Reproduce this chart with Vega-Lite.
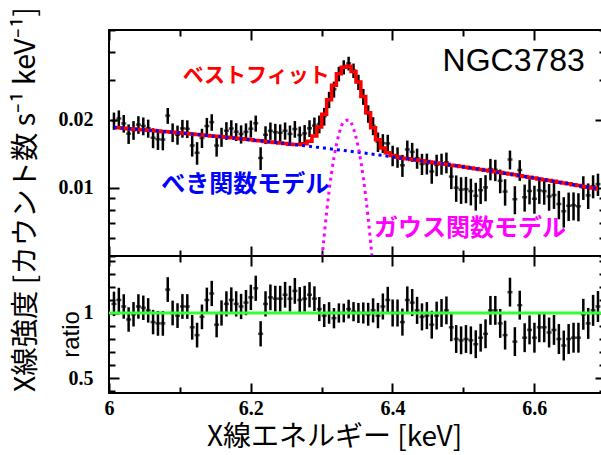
{
"$schema": "https://vega.github.io/schema/vega-lite/v6.json",
"background": "white",
"padding": {"left": 9, "top": 5, "right": 0, "bottom": 0},
"bounds": "flush",
"config": {
 "view": {"stroke": "black", "strokeWidth": 2},
 "axis": {"labelFont": "Liberation Serif", "labelFontWeight": "bold", "labelFontSize": 20, "labelColor": "black", "titleFont": "Noto Sans CJK JP", "titleFontWeight": "normal", "titleColor": "black", "titleFontSize": 26, "domain": false, "grid": false, "tickColor": "black", "tickWidth": 2, "labelFlush": false, "labelOverlap": false}
},
"datasets": {
 "spec": [
{"E":6.007,"model":0.01852,"pl":0.01852,"rate":0.01982,"lo":0.01808,"hi":0.02156,"ratio":1.07,"rlo":0.976,"rhi":1.164},
{"E":6.0139,"model":0.01845,"pl":0.01845,"rate":0.0203,"lo":0.01856,"hi":0.02203,"ratio":1.10,"rlo":1.006,"rhi":1.194},
{"E":6.0208,"model":0.01838,"pl":0.01838,"rate":0.0193,"lo":0.01757,"hi":0.02103,"ratio":1.05,"rlo":0.956,"rhi":1.144},
{"E":6.0277,"model":0.0183,"pl":0.0183,"rate":0.01739,"lo":0.01566,"hi":0.01911,"ratio":0.95,"rlo":0.856,"rhi":1.044},
{"E":6.0346,"model":0.01823,"pl":0.01823,"rate":0.01805,"lo":0.01633,"hi":0.01976,"ratio":0.99,"rlo":0.896,"rhi":1.084},
{"E":6.0415,"model":0.01816,"pl":0.01816,"rate":0.01907,"lo":0.01736,"hi":0.02078,"ratio":1.05,"rlo":0.956,"rhi":1.144},
{"E":6.0484,"model":0.01809,"pl":0.01809,"rate":0.01881,"lo":0.01711,"hi":0.02051,"ratio":1.04,"rlo":0.946,"rhi":1.134},
{"E":6.0553,"model":0.01801,"pl":0.01801,"rate":0.01837,"lo":0.01668,"hi":0.02006,"ratio":1.02,"rlo":0.926,"rhi":1.114},
{"E":6.0622,"model":0.01794,"pl":0.01794,"rate":0.01668,"lo":0.015,"hi":0.01837,"ratio":0.93,"rlo":0.836,"rhi":1.024},
{"E":6.0691,"model":0.01786,"pl":0.01786,"rate":0.01643,"lo":0.01473,"hi":0.01813,"ratio":0.92,"rlo":0.825,"rhi":1.015},
{"E":6.076,"model":0.01779,"pl":0.01779,"rate":0.01637,"lo":0.01468,"hi":0.01806,"ratio":0.92,"rlo":0.825,"rhi":1.015},
{"E":6.0829,"model":0.01771,"pl":0.01771,"rate":0.0209,"lo":0.01922,"hi":0.02258,"ratio":1.18,"rlo":1.085,"rhi":1.275},
{"E":6.0898,"model":0.01763,"pl":0.01763,"rate":0.01763,"lo":0.01596,"hi":0.0193,"ratio":1.0,"rlo":0.905,"rhi":1.095},
{"E":6.0967,"model":0.01756,"pl":0.01756,"rate":0.01721,"lo":0.01554,"hi":0.01888,"ratio":0.98,"rlo":0.885,"rhi":1.075},
{"E":6.1036,"model":0.01748,"pl":0.01748,"rate":0.01835,"lo":0.01669,"hi":0.02001,"ratio":1.05,"rlo":0.955,"rhi":1.145},
{"E":6.1105,"model":0.0174,"pl":0.0174,"rate":0.01827,"lo":0.01662,"hi":0.01992,"ratio":1.05,"rlo":0.955,"rhi":1.145},
{"E":6.1174,"model":0.01732,"pl":0.01732,"rate":0.01541,"lo":0.01377,"hi":0.01706,"ratio":0.89,"rlo":0.795,"rhi":0.985},
{"E":6.1243,"model":0.01724,"pl":0.01724,"rate":0.01431,"lo":0.01267,"hi":0.01595,"ratio":0.83,"rlo":0.735,"rhi":0.925},
{"E":6.1312,"model":0.01716,"pl":0.01716,"rate":0.01665,"lo":0.01502,"hi":0.01828,"ratio":0.97,"rlo":0.875,"rhi":1.065},
{"E":6.1381,"model":0.01708,"pl":0.01708,"rate":0.01879,"lo":0.01717,"hi":0.02041,"ratio":1.10,"rlo":1.005,"rhi":1.195},
{"E":6.145,"model":0.017,"pl":0.017,"rate":0.01955,"lo":0.0179,"hi":0.0212,"ratio":1.15,"rlo":1.053,"rhi":1.247},
{"E":6.1519,"model":0.01692,"pl":0.01692,"rate":0.0154,"lo":0.01376,"hi":0.01704,"ratio":0.91,"rlo":0.813,"rhi":1.007},
{"E":6.1588,"model":0.01683,"pl":0.01683,"rate":0.01683,"lo":0.0152,"hi":0.01846,"ratio":1.0,"rlo":0.903,"rhi":1.097},
{"E":6.1657,"model":0.01675,"pl":0.01675,"rate":0.01792,"lo":0.0163,"hi":0.01955,"ratio":1.07,"rlo":0.973,"rhi":1.167},
{"E":6.1726,"model":0.01666,"pl":0.01666,"rate":0.01833,"lo":0.01671,"hi":0.01994,"ratio":1.10,"rlo":1.003,"rhi":1.197},
{"E":6.1795,"model":0.01658,"pl":0.01658,"rate":0.01774,"lo":0.01613,"hi":0.01935,"ratio":1.07,"rlo":0.973,"rhi":1.167},
{"E":6.1864,"model":0.0165,"pl":0.0165,"rate":0.01733,"lo":0.01572,"hi":0.01893,"ratio":1.05,"rlo":0.953,"rhi":1.147},
{"E":6.1933,"model":0.01641,"pl":0.01641,"rate":0.01772,"lo":0.01613,"hi":0.01931,"ratio":1.08,"rlo":0.983,"rhi":1.177},
{"E":6.2002,"model":0.01633,"pl":0.01633,"rate":0.01829,"lo":0.01671,"hi":0.01987,"ratio":1.12,"rlo":1.023,"rhi":1.217},
{"E":6.2071,"model":0.01624,"pl":0.01624,"rate":0.01933,"lo":0.01775,"hi":0.0209,"ratio":1.19,"rlo":1.093,"rhi":1.287},
{"E":6.214,"model":0.01616,"pl":0.01616,"rate":0.01357,"lo":0.01201,"hi":0.01514,"ratio":0.84,"rlo":0.743,"rhi":0.937},
{"E":6.2209,"model":0.01607,"pl":0.01607,"rate":0.01719,"lo":0.01564,"hi":0.01875,"ratio":1.07,"rlo":0.973,"rhi":1.167},
{"E":6.2278,"model":0.01598,"pl":0.01598,"rate":0.0179,"lo":0.01632,"hi":0.01948,"ratio":1.12,"rlo":1.021,"rhi":1.219},
{"E":6.2347,"model":0.0159,"pl":0.0159,"rate":0.01765,"lo":0.01607,"hi":0.01922,"ratio":1.11,"rlo":1.011,"rhi":1.209},
{"E":6.2416,"model":0.01581,"pl":0.01581,"rate":0.01755,"lo":0.01598,"hi":0.01911,"ratio":1.11,"rlo":1.011,"rhi":1.209},
{"E":6.2485,"model":0.01572,"pl":0.01572,"rate":0.01792,"lo":0.01636,"hi":0.01948,"ratio":1.14,"rlo":1.041,"rhi":1.239},
{"E":6.2554,"model":0.01563,"pl":0.01563,"rate":0.01735,"lo":0.0158,"hi":0.0189,"ratio":1.11,"rlo":1.011,"rhi":1.209},
{"E":6.2623,"model":0.01558,"pl":0.01554,"rate":0.01823,"lo":0.01669,"hi":0.01977,"ratio":1.17,"rlo":1.071,"rhi":1.269},
{"E":6.2692,"model":0.01559,"pl":0.01546,"rate":0.01715,"lo":0.01561,"hi":0.01869,"ratio":1.10,"rlo":1.001,"rhi":1.199},
{"E":6.2761,"model":0.01571,"pl":0.01537,"rate":0.01744,"lo":0.01588,"hi":0.01899,"ratio":1.11,"rlo":1.011,"rhi":1.209},
{"E":6.283,"model":0.01611,"pl":0.01528,"rate":0.01837,"lo":0.0168,"hi":0.01993,"ratio":1.14,"rlo":1.043,"rhi":1.237},
{"E":6.2899,"model":0.017,"pl":0.01519,"rate":0.01887,"lo":0.01726,"hi":0.02049,"ratio":1.11,"rlo":1.015,"rhi":1.205},
{"E":6.2968,"model":0.01862,"pl":0.0151,"rate":0.01918,"lo":0.01745,"hi":0.02091,"ratio":1.03,"rlo":0.937,"rhi":1.123},
{"E":6.3037,"model":0.02117,"pl":0.01501,"rate":0.02075,"lo":0.01888,"hi":0.02261,"ratio":0.98,"rlo":0.892,"rhi":1.068},
{"E":6.3106,"model":0.02459,"pl":0.01492,"rate":0.02459,"lo":0.02255,"hi":0.02663,"ratio":1.0,"rlo":0.917,"rhi":1.083},
{"E":6.3175,"model":0.02847,"pl":0.01483,"rate":0.02733,"lo":0.02511,"hi":0.02955,"ratio":0.96,"rlo":0.882,"rhi":1.038},
{"E":6.3244,"model":0.032,"pl":0.01474,"rate":0.032,"lo":0.02963,"hi":0.03437,"ratio":1.0,"rlo":0.926,"rhi":1.074},
{"E":6.3313,"model":0.03425,"pl":0.01465,"rate":0.03425,"lo":0.03178,"hi":0.03672,"ratio":1.0,"rlo":0.928,"rhi":1.072},
{"E":6.3382,"model":0.03455,"pl":0.01456,"rate":0.03559,"lo":0.0331,"hi":0.03807,"ratio":1.03,"rlo":0.958,"rhi":1.102},
{"E":6.3451,"model":0.03277,"pl":0.01447,"rate":0.0331,"lo":0.03067,"hi":0.03552,"ratio":1.01,"rlo":0.936,"rhi":1.084},
{"E":6.352,"model":0.02942,"pl":0.01438,"rate":0.02942,"lo":0.02715,"hi":0.03169,"ratio":1.0,"rlo":0.923,"rhi":1.077},
{"E":6.3589,"model":0.02538,"pl":0.01429,"rate":0.02538,"lo":0.02332,"hi":0.02744,"ratio":1.0,"rlo":0.919,"rhi":1.081},
{"E":6.3658,"model":0.02154,"pl":0.0142,"rate":0.02132,"lo":0.01943,"hi":0.02322,"ratio":0.99,"rlo":0.902,"rhi":1.078},
{"E":6.3727,"model":0.01847,"pl":0.0141,"rate":0.01884,"lo":0.01712,"hi":0.02056,"ratio":1.02,"rlo":0.927,"rhi":1.113},
{"E":6.3796,"model":0.01634,"pl":0.01401,"rate":0.01601,"lo":0.01443,"hi":0.0176,"ratio":0.98,"rlo":0.883,"rhi":1.077},
{"E":6.3865,"model":0.01504,"pl":0.01392,"rate":0.01579,"lo":0.01429,"hi":0.0173,"ratio":1.05,"rlo":0.95,"rhi":1.15},
{"E":6.3934,"model":0.01431,"pl":0.01383,"rate":0.01574,"lo":0.0143,"hi":0.01719,"ratio":1.10,"rlo":0.999,"rhi":1.201},
{"E":6.4003,"model":0.01393,"pl":0.01374,"rate":0.01393,"lo":0.01248,"hi":0.01538,"ratio":1.0,"rlo":0.896,"rhi":1.104},
{"E":6.4072,"model":0.0137,"pl":0.01364,"rate":0.0137,"lo":0.01228,"hi":0.01512,"ratio":1.0,"rlo":0.896,"rhi":1.104},
{"E":6.4141,"model":0.01355,"pl":0.01355,"rate":0.0126,"lo":0.01119,"hi":0.01401,"ratio":0.93,"rlo":0.826,"rhi":1.034},
{"E":6.421,"model":0.01346,"pl":0.01346,"rate":0.01481,"lo":0.01341,"hi":0.01621,"ratio":1.10,"rlo":0.996,"rhi":1.204},
{"E":6.4279,"model":0.01337,"pl":0.01337,"rate":0.01444,"lo":0.01305,"hi":0.01583,"ratio":1.08,"rlo":0.976,"rhi":1.184},
{"E":6.4348,"model":0.01328,"pl":0.01328,"rate":0.01355,"lo":0.01216,"hi":0.01493,"ratio":1.02,"rlo":0.916,"rhi":1.124},
{"E":6.4417,"model":0.01318,"pl":0.01318,"rate":0.01278,"lo":0.01141,"hi":0.01416,"ratio":0.97,"rlo":0.866,"rhi":1.074},
{"E":6.4486,"model":0.01309,"pl":0.01309,"rate":0.01283,"lo":0.01147,"hi":0.01419,"ratio":0.98,"rlo":0.876,"rhi":1.084},
{"E":6.4555,"model":0.013,"pl":0.013,"rate":0.01183,"lo":0.01044,"hi":0.01322,"ratio":0.91,"rlo":0.803,"rhi":1.017},
{"E":6.4624,"model":0.01291,"pl":0.01291,"rate":0.01265,"lo":0.01127,"hi":0.01403,"ratio":0.98,"rlo":0.873,"rhi":1.087},
{"E":6.4693,"model":0.01281,"pl":0.01281,"rate":0.01281,"lo":0.01144,"hi":0.01418,"ratio":1.0,"rlo":0.893,"rhi":1.107},
{"E":6.4762,"model":0.01272,"pl":0.01272,"rate":0.01297,"lo":0.01161,"hi":0.01434,"ratio":1.02,"rlo":0.913,"rhi":1.127},
{"E":6.4831,"model":0.01262,"pl":0.01262,"rate":0.01123,"lo":0.00988,"hi":0.01258,"ratio":0.89,"rlo":0.783,"rhi":0.997},
{"E":6.49,"model":0.01253,"pl":0.01253,"rate":0.01002,"lo":0.00868,"hi":0.01136,"ratio":0.80,"rlo":0.693,"rhi":0.907},
{"E":6.4969,"model":0.01244,"pl":0.01244,"rate":0.00983,"lo":0.0085,"hi":0.01116,"ratio":0.79,"rlo":0.683,"rhi":0.897},
{"E":6.5038,"model":0.01235,"pl":0.01235,"rate":0.00988,"lo":0.00856,"hi":0.0112,"ratio":0.80,"rlo":0.693,"rhi":0.907},
{"E":6.5107,"model":0.01225,"pl":0.01225,"rate":0.00968,"lo":0.00837,"hi":0.01099,"ratio":0.79,"rlo":0.683,"rhi":0.897},
{"E":6.5176,"model":0.01216,"pl":0.01216,"rate":0.00924,"lo":0.00794,"hi":0.01054,"ratio":0.76,"rlo":0.653,"rhi":0.867},
{"E":6.5245,"model":0.01207,"pl":0.01207,"rate":0.00978,"lo":0.00849,"hi":0.01107,"ratio":0.81,"rlo":0.703,"rhi":0.917},
{"E":6.5314,"model":0.01198,"pl":0.01198,"rate":0.01006,"lo":0.00873,"hi":0.01139,"ratio":0.84,"rlo":0.729,"rhi":0.951},
{"E":6.5383,"model":0.01189,"pl":0.01189,"rate":0.01213,"lo":0.01081,"hi":0.01345,"ratio":1.02,"rlo":0.909,"rhi":1.131},
{"E":6.5452,"model":0.01179,"pl":0.01179,"rate":0.01203,"lo":0.01072,"hi":0.01333,"ratio":1.02,"rlo":0.909,"rhi":1.131},
{"E":6.5521,"model":0.0117,"pl":0.0117,"rate":0.01076,"lo":0.00947,"hi":0.01206,"ratio":0.92,"rlo":0.809,"rhi":1.031},
{"E":6.559,"model":0.01161,"pl":0.01161,"rate":0.00964,"lo":0.00835,"hi":0.01093,"ratio":0.83,"rlo":0.719,"rhi":0.941},
{"E":6.5659,"model":0.01152,"pl":0.01152,"rate":0.01336,"lo":0.01208,"hi":0.01464,"ratio":1.16,"rlo":1.049,"rhi":1.271},
{"E":6.5728,"model":0.01143,"pl":0.01143,"rate":0.00892,"lo":0.00765,"hi":0.01018,"ratio":0.78,"rlo":0.669,"rhi":0.891},
{"E":6.5797,"model":0.01133,"pl":0.01133,"rate":0.01201,"lo":0.01075,"hi":0.01327,"ratio":1.06,"rlo":0.949,"rhi":1.171},
{"E":6.5866,"model":0.01124,"pl":0.01124,"rate":0.0091,"lo":0.00786,"hi":0.01035,"ratio":0.81,"rlo":0.699,"rhi":0.921},
{"E":6.5935,"model":0.01115,"pl":0.01115,"rate":0.0097,"lo":0.00846,"hi":0.01094,"ratio":0.87,"rlo":0.759,"rhi":0.981},
{"E":6.6004,"model":0.01106,"pl":0.01106,"rate":0.00896,"lo":0.00769,"hi":0.01023,"ratio":0.81,"rlo":0.695,"rhi":0.925},
{"E":6.6073,"model":0.01097,"pl":0.01097,"rate":0.00976,"lo":0.0085,"hi":0.01102,"ratio":0.89,"rlo":0.775,"rhi":1.005},
{"E":6.6142,"model":0.01088,"pl":0.01088,"rate":0.00968,"lo":0.00843,"hi":0.01093,"ratio":0.89,"rlo":0.775,"rhi":1.005},
{"E":6.6211,"model":0.01079,"pl":0.01079,"rate":0.00917,"lo":0.00793,"hi":0.01041,"ratio":0.85,"rlo":0.735,"rhi":0.965},
{"E":6.628,"model":0.0107,"pl":0.0107,"rate":0.00931,"lo":0.00808,"hi":0.01054,"ratio":0.87,"rlo":0.755,"rhi":0.985},
{"E":6.6349,"model":0.01061,"pl":0.01061,"rate":0.00849,"lo":0.00727,"hi":0.00971,"ratio":0.80,"rlo":0.685,"rhi":0.915},
{"E":6.6418,"model":0.01052,"pl":0.01052,"rate":0.00789,"lo":0.00668,"hi":0.0091,"ratio":0.75,"rlo":0.635,"rhi":0.865},
{"E":6.6487,"model":0.01043,"pl":0.01043,"rate":0.00834,"lo":0.00714,"hi":0.00954,"ratio":0.80,"rlo":0.685,"rhi":0.915},
{"E":6.6556,"model":0.01034,"pl":0.01034,"rate":0.00838,"lo":0.00719,"hi":0.00956,"ratio":0.81,"rlo":0.695,"rhi":0.925},
{"E":6.6625,"model":0.01025,"pl":0.01025,"rate":0.0083,"lo":0.00712,"hi":0.00948,"ratio":0.81,"rlo":0.695,"rhi":0.925},
{"E":6.6694,"model":0.01016,"pl":0.01016,"rate":0.01006,"lo":0.00885,"hi":0.01127,"ratio":0.99,"rlo":0.871,"rhi":1.109},
{"E":6.6763,"model":0.01008,"pl":0.01008,"rate":0.00927,"lo":0.00807,"hi":0.01047,"ratio":0.92,"rlo":0.801,"rhi":1.039},
{"E":6.6832,"model":0.00999,"pl":0.00999,"rate":0.01019,"lo":0.009,"hi":0.01138,"ratio":1.02,"rlo":0.901,"rhi":1.139},
{"E":6.6901,"model":0.0099,"pl":0.0099,"rate":0.0104,"lo":0.00922,"hi":0.01157,"ratio":1.05,"rlo":0.931,"rhi":1.169}
 ],
 "gauss": [
{"E":6.283,"g":0.000832},{"E":6.2899,"g":0.001805},{"E":6.2968,"g":0.003521},{"E":6.3037,"g":0.006157},{"E":6.3106,"g":0.009672},{"E":6.3175,"g":0.013636},{"E":6.3244,"g":0.017255},{"E":6.3313,"g":0.019603},{"E":6.3382,"g":0.01999},{"E":6.3451,"g":0.018299},{"E":6.352,"g":0.015036},{"E":6.3589,"g":0.011091},{"E":6.3658,"g":0.007344},{"E":6.3727,"g":0.004365},{"E":6.3796,"g":0.002329},{"E":6.3865,"g":0.001116},{"E":6.3934,"g":0.00048}
 ]
},
"spacing": 0,
"vconcat": [
 {
  "width": 496, "height": 226,
  "data": {"name": "spec"},
  "resolve": {"axis": {"x": "independent", "y": "independent"}},
  "layer": [
   {"mark": {"type": "rule", "color": "black", "strokeWidth": 2.5},
    "encoding": {
     "x": {"field": "E", "type": "quantitative", "scale": {"domain": [6, 6.7], "nice": false, "zero": false},
       "axis": {"orient": "bottom", "values": [6, 6.1, 6.2, 6.3, 6.4, 6.5, 6.6, 6.7], "labels": false, "title": null,
         "tickSize": {"condition": {"test": "datum.value==6||datum.value==6.2||datum.value==6.4||datum.value==6.6", "value": -10}, "value": -6}}},
     "y": {"field": "lo", "type": "quantitative", "scale": {"type": "log", "domain": [0.005, 0.05], "nice": false},
       "axis": {"orient": "left", "values": [0.005, 0.006, 0.007, 0.008, 0.009, 0.01, 0.02, 0.03, 0.04, 0.05], "format": "~g",
         "labelExpr": "datum.value==0.01||datum.value==0.02 ? datum.label : ''", "labelPadding": 26,
         "tickSize": {"condition": {"test": "datum.value==0.01||datum.value==0.02", "value": -10}, "value": -6},
         "title": "X線強度 [カウント数 s⁻¹ keV⁻¹]", "titleFontSize": 28.4, "titleX": -69, "titleY": 169, "titleAlign": "center", "titleBaseline": "bottom"}},
     "y2": {"field": "hi"}
    }},
   {"mark": {"type": "tick", "orient": "horizontal", "size": 5, "thickness": 2.5, "color": "black"},
    "encoding": {
     "x": {"field": "E", "type": "quantitative", "scale": {"domain": [6, 6.7], "nice": false, "zero": false},
       "axis": {"orient": "top", "values": [6, 6.1, 6.2, 6.3, 6.4, 6.5, 6.6, 6.7], "labels": false, "title": null,
         "tickSize": {"condition": {"test": "datum.value==6||datum.value==6.2||datum.value==6.4||datum.value==6.6", "value": -10}, "value": -6}}},
     "y": {"field": "rate", "type": "quantitative", "scale": {"type": "log", "domain": [0.005, 0.05], "nice": false},
       "axis": {"orient": "right", "values": [0.005, 0.006, 0.007, 0.008, 0.009, 0.01, 0.02, 0.03, 0.04, 0.05], "labels": false, "title": null,
         "tickSize": {"condition": {"test": "datum.value==0.01||datum.value==0.02", "value": -10}, "value": -6}}}
    }},
   {"mark": {"type": "line", "interpolate": "step", "color": "#ff0000", "strokeWidth": 3.5},
    "encoding": {
     "x": {"field": "E", "type": "quantitative", "scale": {"domain": [6, 6.7], "nice": false, "zero": false}, "axis": null},
     "y": {"field": "model", "type": "quantitative", "scale": {"type": "log", "domain": [0.005, 0.05], "nice": false}, "axis": null}
    }},
   {"mark": {"type": "line", "color": "#0000ff", "strokeWidth": 3, "strokeDash": [3, 4]},
    "encoding": {
     "x": {"field": "E", "type": "quantitative", "scale": {"domain": [6, 6.7], "nice": false, "zero": false}, "axis": null},
     "y": {"field": "pl", "type": "quantitative", "scale": {"type": "log", "domain": [0.005, 0.05], "nice": false}, "axis": null}
    }},
   {"data": {"name": "gauss"},
    "mark": {"type": "line", "color": "#ff00ff", "strokeWidth": 3, "strokeDash": [3, 4], "interpolate": "monotone", "clip": true},
    "encoding": {
     "x": {"field": "E", "type": "quantitative", "scale": {"domain": [6, 6.7], "nice": false, "zero": false}, "axis": null},
     "y": {"field": "g", "type": "quantitative", "scale": {"type": "log", "domain": [0.005, 0.05], "nice": false}, "axis": null}
    }},
   {"data": {"values": [{"E": 6.2077, "v": 0.0313, "label": "ベストフィット"}]},
    "mark": {"type": "text", "color": "#ff0000", "font": "Noto Sans CJK JP", "fontSize": 21, "fontWeight": "bold", "align": "center", "baseline": "middle"},
    "encoding": {
     "x": {"field": "E", "type": "quantitative", "scale": {"domain": [6, 6.7], "nice": false, "zero": false}, "axis": null},
     "y": {"field": "v", "type": "quantitative", "scale": {"type": "log", "domain": [0.005, 0.05], "nice": false}, "axis": null},
     "text": {"field": "label"}
    }},
   {"data": {"values": [{"E": 6.1923, "v": 0.01031, "label": "べき関数モデル"}]},
    "mark": {"type": "text", "color": "#0000ff", "font": "Noto Sans CJK JP", "fontSize": 24, "fontWeight": "bold", "align": "center", "baseline": "middle"},
    "encoding": {
     "x": {"field": "E", "type": "quantitative", "scale": {"domain": [6, 6.7], "nice": false, "zero": false}, "axis": null},
     "y": {"field": "v", "type": "quantitative", "scale": {"type": "log", "domain": [0.005, 0.05], "nice": false}, "axis": null},
     "text": {"field": "label"}
    }},
   {"data": {"values": [{"E": 6.5095, "v": 0.00659, "label": "ガウス関数モデル"}]},
    "mark": {"type": "text", "color": "#ff00ff", "font": "Noto Sans CJK JP", "fontSize": 24, "fontWeight": "bold", "align": "center", "baseline": "middle"},
    "encoding": {
     "x": {"field": "E", "type": "quantitative", "scale": {"domain": [6, 6.7], "nice": false, "zero": false}, "axis": null},
     "y": {"field": "v", "type": "quantitative", "scale": {"type": "log", "domain": [0.005, 0.05], "nice": false}, "axis": null},
     "text": {"field": "label"}
    }},
   {"data": {"values": [{"E": 6.5712, "v": 0.0365, "label": "NGC3783"}]},
    "mark": {"type": "text", "color": "black", "font": "Liberation Sans", "fontSize": 32, "align": "center", "baseline": "middle"},
    "encoding": {
     "x": {"field": "E", "type": "quantitative", "scale": {"domain": [6, 6.7], "nice": false, "zero": false}, "axis": null},
     "y": {"field": "v", "type": "quantitative", "scale": {"type": "log", "domain": [0.005, 0.05], "nice": false}, "axis": null},
     "text": {"field": "label"}
    }}
  ]
 },
 {
  "width": 496, "height": 137,
  "data": {"name": "spec"},
  "resolve": {"axis": {"x": "independent", "y": "independent"}},
  "layer": [
   {"mark": {"type": "rule", "color": "black", "strokeWidth": 2.5},
    "encoding": {
     "x": {"field": "E", "type": "quantitative", "scale": {"domain": [6, 6.7], "nice": false, "zero": false},
       "axis": {"orient": "bottom", "values": [6, 6.1, 6.2, 6.3, 6.4, 6.5, 6.6, 6.7], "format": "~g",
         "labelExpr": "datum.value==6||datum.value==6.2||datum.value==6.4||datum.value==6.6 ? datum.label : ''", "labelPadding": 15,
         "tickSize": {"condition": {"test": "datum.value==6||datum.value==6.2||datum.value==6.4||datum.value==6.6", "value": -10}, "value": -6},
         "title": "X線エネルギー [keV]", "titleFontSize": 28, "titleX": 225, "titleY": 30, "titleAlign": "center", "titleBaseline": "top"}},
     "y": {"field": "rlo", "type": "quantitative", "scale": {"domain": [0.385, 1.438], "nice": false, "zero": false},
       "axis": {"orient": "left", "values": [0.4, 0.5, 0.6, 0.7, 0.8, 0.9, 1, 1.1, 1.2, 1.3, 1.4], "format": "~g",
         "labelExpr": "datum.value==0.5||datum.value==1 ? datum.label : ''", "labelPadding": 26,
         "tickSize": {"condition": {"test": "datum.value==0.5||datum.value==1", "value": -10}, "value": -6},
         "title": "ratio", "titleFont": "Liberation Sans", "titleFontSize": 24, "titleX": -26, "titleY": 78, "titleAlign": "center", "titleBaseline": "bottom"}},
     "y2": {"field": "rhi"}
    }},
   {"mark": {"type": "tick", "orient": "horizontal", "size": 5, "thickness": 2.5, "color": "black"},
    "encoding": {
     "x": {"field": "E", "type": "quantitative", "scale": {"domain": [6, 6.7], "nice": false, "zero": false},
       "axis": {"orient": "top", "values": [6, 6.1, 6.2, 6.3, 6.4, 6.5, 6.6, 6.7], "labels": false, "title": null,
         "tickSize": {"condition": {"test": "datum.value==6||datum.value==6.2||datum.value==6.4||datum.value==6.6", "value": -10}, "value": -6}}},
     "y": {"field": "ratio", "type": "quantitative", "scale": {"domain": [0.385, 1.438], "nice": false, "zero": false},
       "axis": {"orient": "right", "values": [0.4, 0.5, 0.6, 0.7, 0.8, 0.9, 1, 1.1, 1.2, 1.3, 1.4], "labels": false, "title": null,
         "tickSize": {"condition": {"test": "datum.value==0.5||datum.value==1", "value": -10}, "value": -6}}}
    }},
   {"data": {"values": [{"ref": 1}]},
    "mark": {"type": "rule", "color": "#33ff33", "strokeWidth": 3},
    "encoding": {
     "y": {"field": "ref", "type": "quantitative", "scale": {"domain": [0.385, 1.438], "nice": false, "zero": false}, "axis": null}
    }}
  ]
 }
]
}
